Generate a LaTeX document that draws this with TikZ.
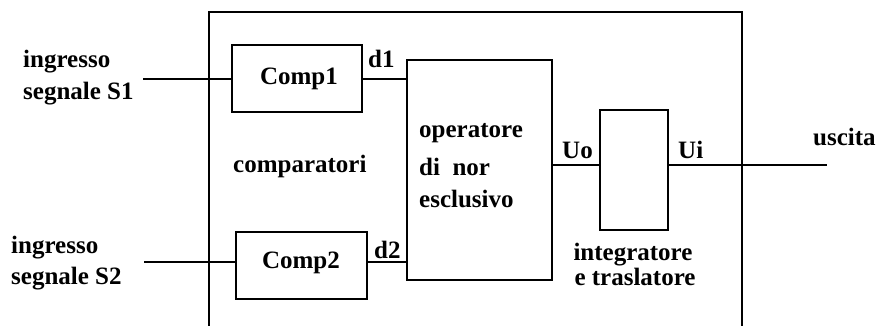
\documentclass[tikz,border=0pt]{standalone}
\usepackage{fontspec}
\setmainfont{Liberation Serif}
\begin{document}
\begin{tikzpicture}[x=1pt,y=-1pt,
  wire/.style={line width=1.5pt},
  blk/.style={draw,line width=1.5pt,rectangle,inner sep=0pt},
  lbl/.style={inner sep=0pt,font=\fontsize{25}{30}\selectfont\bfseries},
]
\useasboundingbox (0,0) rectangle (880,326);

% outer frame (open at the bottom)
\draw[wire] (209,330) -- (209,12) -- (742,12) -- (742,330);

% blocks
\node[blk,minimum width=130pt,minimum height=67pt] (comp1) at (297,78.5) {};
\node[blk,minimum width=131pt,minimum height=67pt] (comp2) at (301.5,265.5) {};
\node[blk,minimum width=145pt,minimum height=220pt] (op) at (479.5,170) {};
\node[blk,minimum width=68pt,minimum height=120pt] (integ) at (634,170) {};

% signal ends
\coordinate (in1) at (143,79);
\coordinate (in2) at (144,262);
\coordinate (out) at (827,165);

% wiring
\draw[wire] (in1) -- (in1 -| comp1.west);
\draw[wire] (in1 -| comp1.east) -- (in1 -| op.west);
\draw[wire] (in2) -- (in2 -| comp2.west);
\draw[wire] (in2 -| comp2.east) -- (in2 -| op.west);
\draw[wire] (out -| op.east) -- (out -| integ.west);
\draw[wire] (out -| integ.east) -- (out);

% labels
\node[lbl,anchor=base west] (s1a) at (23,68) {ingresso};
\node[lbl,anchor=base west] (s1b) at (23,100) {segnale S1};
\node[lbl,anchor=base west] (s2a) at (11,253) {ingresso};
\node[lbl,anchor=base west] (s2b) at (11,284) {segnale S2};
\node[lbl,anchor=base] (t1) at (299,85) {Comp1};
\node[lbl,anchor=base] (t2) at (301,268) {Comp2};
\node[lbl,anchor=base west] (d1) at (368,68) {d1};
\node[lbl,anchor=base west] (d2) at (374,258) {d2};
\node[lbl,anchor=base west] (cmp) at (233,172) {comparatori};
\node[lbl,anchor=base west] (opa) at (419,138) {operatore};
\node[lbl,anchor=base west] (opb) at (419,175) {di\ \ nor};
\node[lbl,anchor=base west] (opc) at (419,207) {esclusivo};
\node[lbl,anchor=base west] (uo) at (562,158) {Uo};
\node[lbl,anchor=base west] (ui) at (678,158) {Ui};
\node[lbl,anchor=base west] (usc) at (813,145) {uscita};
\node[lbl,anchor=base] (ia) at (633,260) {integratore};
\node[lbl,anchor=base] (ib) at (635,285) {e traslatore};
\end{tikzpicture}
\end{document}
